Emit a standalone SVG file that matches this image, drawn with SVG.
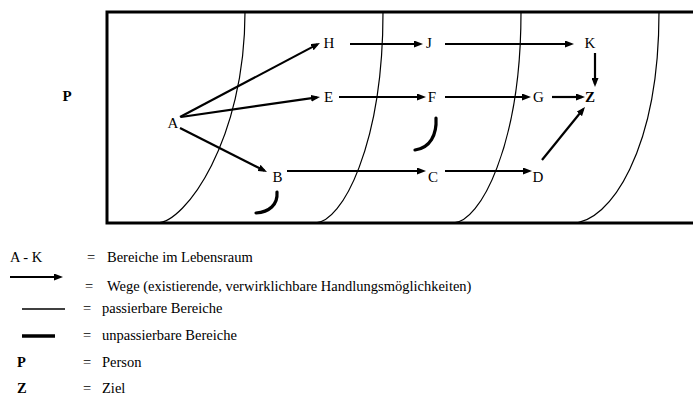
<svg xmlns="http://www.w3.org/2000/svg" width="693" height="396" viewBox="0 0 693 396">
<style>
text{font-family:'Liberation Serif','Times New Roman','DejaVu Serif',serif;fill:#000}
.lbl{font-size:15px;text-anchor:middle}
.bold{font-weight:bold}
.leg{font-size:14.5px}
.arr{stroke:#000;stroke-width:2.2;fill:none;marker-end:url(#ah)}
.thin{stroke:#000;stroke-width:1.2;fill:none}
.thick{stroke:#000;stroke-width:3.2;fill:none;stroke-linecap:round}
</style>
<defs>
<marker id="ah" markerUnits="userSpaceOnUse" markerWidth="9" markerHeight="7" refX="6" refY="3.5" orient="auto">
<path d="M0,0 L9,3.5 L0,7 z" fill="#000"/>
</marker>
</defs>
<rect width="693" height="396" fill="#fff"/>
<g id="frame">
<rect x="107" y="12" width="600" height="211" fill="none" stroke="#000" stroke-width="3"/>
</g>
<g id="regions">
<path class="thin" d="M245,12 C245,140 185,223 157,223"/>
<path class="thin" d="M383,12 C383,145 342,223 315,223"/>
<path class="thin" d="M521,12 C521,145 480,223 453,223"/>
<path class="thin" d="M659,12 C659,150 610,223 572,223"/>
</g>
<g id="barriers">
<path class="thick" d="M277,192 C278,205 269,212 256,213"/>
<path class="thick" d="M436,118 C437,135 430,148 415,150"/>
</g>
<g id="connectors">
<line class="arr" x1="180" y1="117" x2="317.3" y2="44.4"/>
<line class="arr" x1="181" y1="117" x2="317" y2="97.4"/>
<line class="arr" x1="180" y1="128" x2="264.3" y2="170.6"/>
<line class="arr" x1="350" y1="44" x2="420" y2="44"/>
<line class="arr" x1="445" y1="44" x2="571" y2="44"/>
<line class="arr" x1="339" y1="97" x2="423" y2="97"/>
<line class="arr" x1="445" y1="97" x2="528" y2="97"/>
<line class="arr" x1="552" y1="97" x2="582" y2="97"/>
<line class="arr" x1="595" y1="53" x2="595" y2="84"/>
<line class="arr" x1="287" y1="171" x2="423" y2="171"/>
<line class="arr" x1="445" y1="171" x2="529" y2="171"/>
<line class="arr" x1="542" y1="160" x2="583.1" y2="109.3"/>
</g>
<g id="node-P"><text class="lbl bold" x="67" y="101" font-family="Liberation Serif, serif">P</text></g>
<g id="node-A"><text class="lbl" x="173" y="128">A</text></g>
<g id="node-H"><text class="lbl" x="329" y="48">H</text></g>
<g id="node-E"><text class="lbl" x="328.5" y="102">E</text></g>
<g id="node-B"><text class="lbl" x="277.5" y="182">B</text></g>
<g id="node-J"><text class="lbl" x="429" y="48">J</text></g>
<g id="node-F"><text class="lbl" x="432" y="102">F</text></g>
<g id="node-C"><text class="lbl" x="433" y="182">C</text></g>
<g id="node-K"><text class="lbl" x="590" y="48">K</text></g>
<g id="node-G"><text class="lbl" x="538.5" y="102">G</text></g>
<g id="node-Z"><text class="lbl bold" x="590" y="102">Z</text></g>
<g id="node-D"><text class="lbl" x="538" y="182">D</text></g>
<g id="legend">
<text class="leg" x="10" y="262">A - K</text>
<text class="leg" x="87" y="262">=</text>
<text class="leg" x="107" y="262">Bereiche im Lebensraum</text>
<line class="arr" x1="10" y1="277" x2="60" y2="277"/>
<text class="leg" x="85" y="291">=</text>
<text class="leg" x="107" y="291">Wege (existierende, verwirklichbare Handlungsmöglichkeiten)</text>
<line x1="22" y1="309" x2="65" y2="309" stroke="#000" stroke-width="1.5"/>
<text class="leg" x="83" y="313">=</text>
<text class="leg" x="102" y="313">passierbare Bereiche</text>
<line x1="22" y1="336" x2="55" y2="336" stroke="#000" stroke-width="3.5"/>
<text class="leg" x="83" y="340">=</text>
<text class="leg" x="102" y="340">unpassierbare Bereiche</text>
<text class="leg bold" x="17" y="367">P</text>
<text class="leg" x="83" y="367">=</text>
<text class="leg" x="102" y="367">Person</text>
<text class="leg bold" x="17" y="393">Z</text>
<text class="leg" x="83" y="393">=</text>
<text class="leg" x="102" y="393">Ziel</text>
</g>
</svg>
